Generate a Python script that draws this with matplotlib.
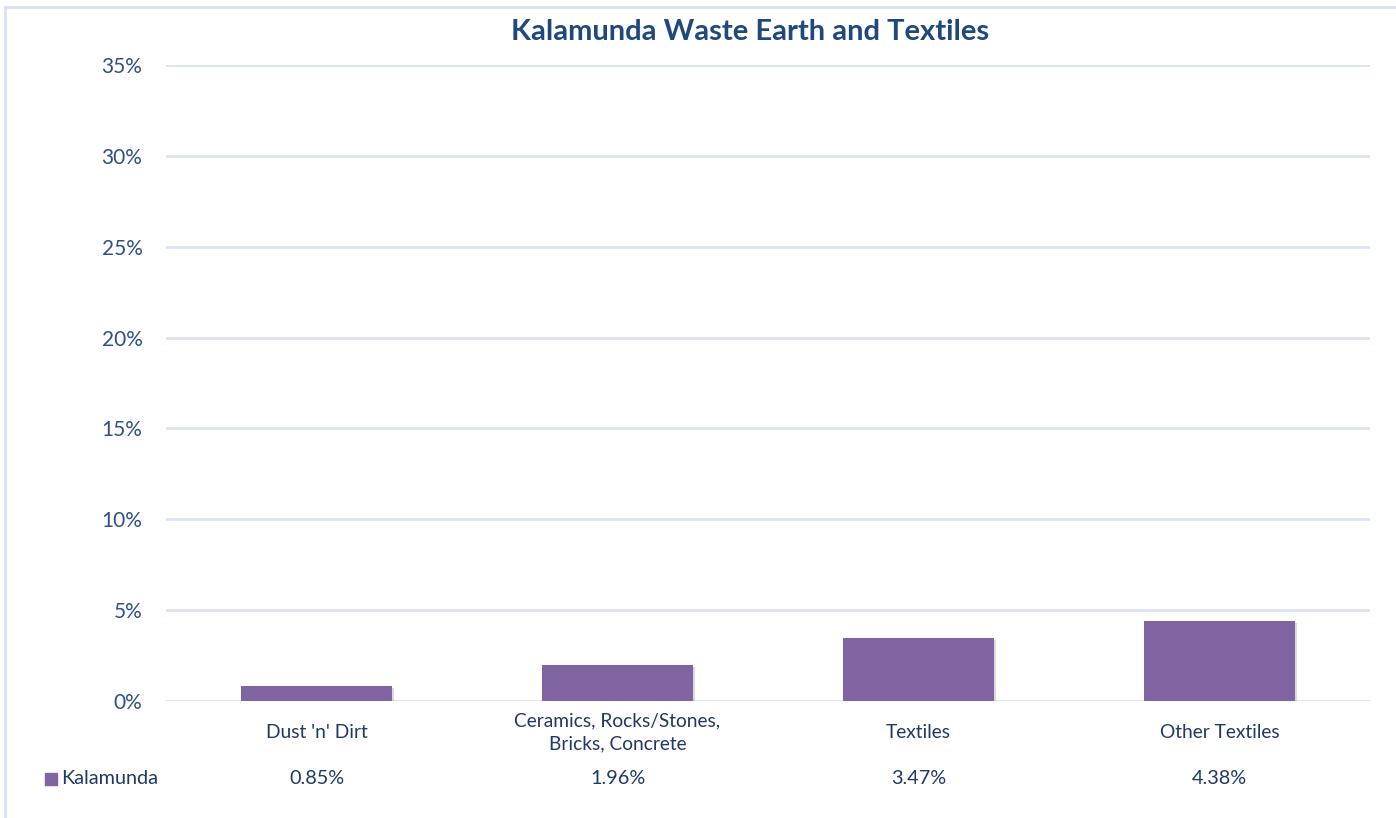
import matplotlib.pyplot as plt
import matplotlib.patheffects as pe
from matplotlib.lines import Line2D
from matplotlib.patches import Rectangle
from matplotlib.ticker import FuncFormatter

plt.rcParams['font.family'] = ['Lato', 'DejaVu Sans']

# Daten
categories = ["Dust 'n' Dirt", "Ceramics, Rocks/Stones,\nBricks, Concrete", "Textiles", "Other Textiles"]
values = [0.85, 1.96, 3.47, 4.38]
series_name = "Kalamunda"
title = "Kalamunda Waste Earth and Textiles"

bar_color = '#8064A2'
text_color = '#1F3864'
tick_color = '#2F4F87'
grid_color = '#D9E3F1'

W, H = 1396, 818
fig = plt.figure(figsize=(W / 100, H / 100), dpi=100)
ax = fig.add_axes([166 / W, 1 - 701 / H, (1370 - 166) / W, (701 - 65) / H])

x = list(range(len(categories)))
bars = ax.bar(x, values, width=0.5, color=bar_color, zorder=3)
for b in bars:
    b.set_path_effects([pe.SimplePatchShadow(offset=(1.5, -1.5), shadow_rgbFace='#999999', alpha=0.35),
                        pe.Normal()])

ax.set_xlim(-0.5, len(categories) - 0.5)
ax.set_ylim(0, 35)
ax.set_yticks(range(0, 36, 5))
ax.yaxis.set_major_formatter(FuncFormatter(lambda v, p: f"{v:.0f}%"))
ax.grid(axis='y', color=grid_color, linewidth=2, zorder=0)
for s in ax.spines.values():
    s.set_visible(False)
ax.tick_params(axis='y', length=0, pad=17, labelsize=15, labelcolor=tick_color)
ax.tick_params(axis='x', length=0, pad=22.5, labelsize=13.8, labelcolor=text_color)
ax.set_xticks(x)
ax.set_xticklabels(categories, linespacing=1.45)
for lab in ax.get_xticklabels():
    lab.set_va('center')

# Titel (leicht links von der Achsenmitte, wie im Original)
fig.text(750 / W, 1 - 32 / H, title, ha='center', va='center',
         fontsize=21, fontweight='bold', color='#1F497D')

# Tabelle unten
row_y = 1 - 779 / H
for xi, v in zip(x, values):
    ax.text(xi, -78 / 636, f"{v:.2f}%", ha='center', va='center',
            fontsize=14.3, color=text_color, transform=ax.get_xaxis_transform())
fig.patches.append(Rectangle((45 / W, row_y - 6 / H), 12 / W, 12 / H,
                             transform=fig.transFigure, color=bar_color))
fig.text(61 / W, row_y, series_name, ha='left', va='center', fontsize=14.3, color=text_color)

# Rahmen
border = '#D6E2F0'
fig.add_artist(Line2D([5 / W, 1], [1 - 7 / H, 1 - 7 / H], color=border, linewidth=2, transform=fig.transFigure))
fig.add_artist(Line2D([5 / W, 5 / W], [0, 1 - 7 / H], color=border, linewidth=2, transform=fig.transFigure))

fig.savefig('out.png', dpi=100)
